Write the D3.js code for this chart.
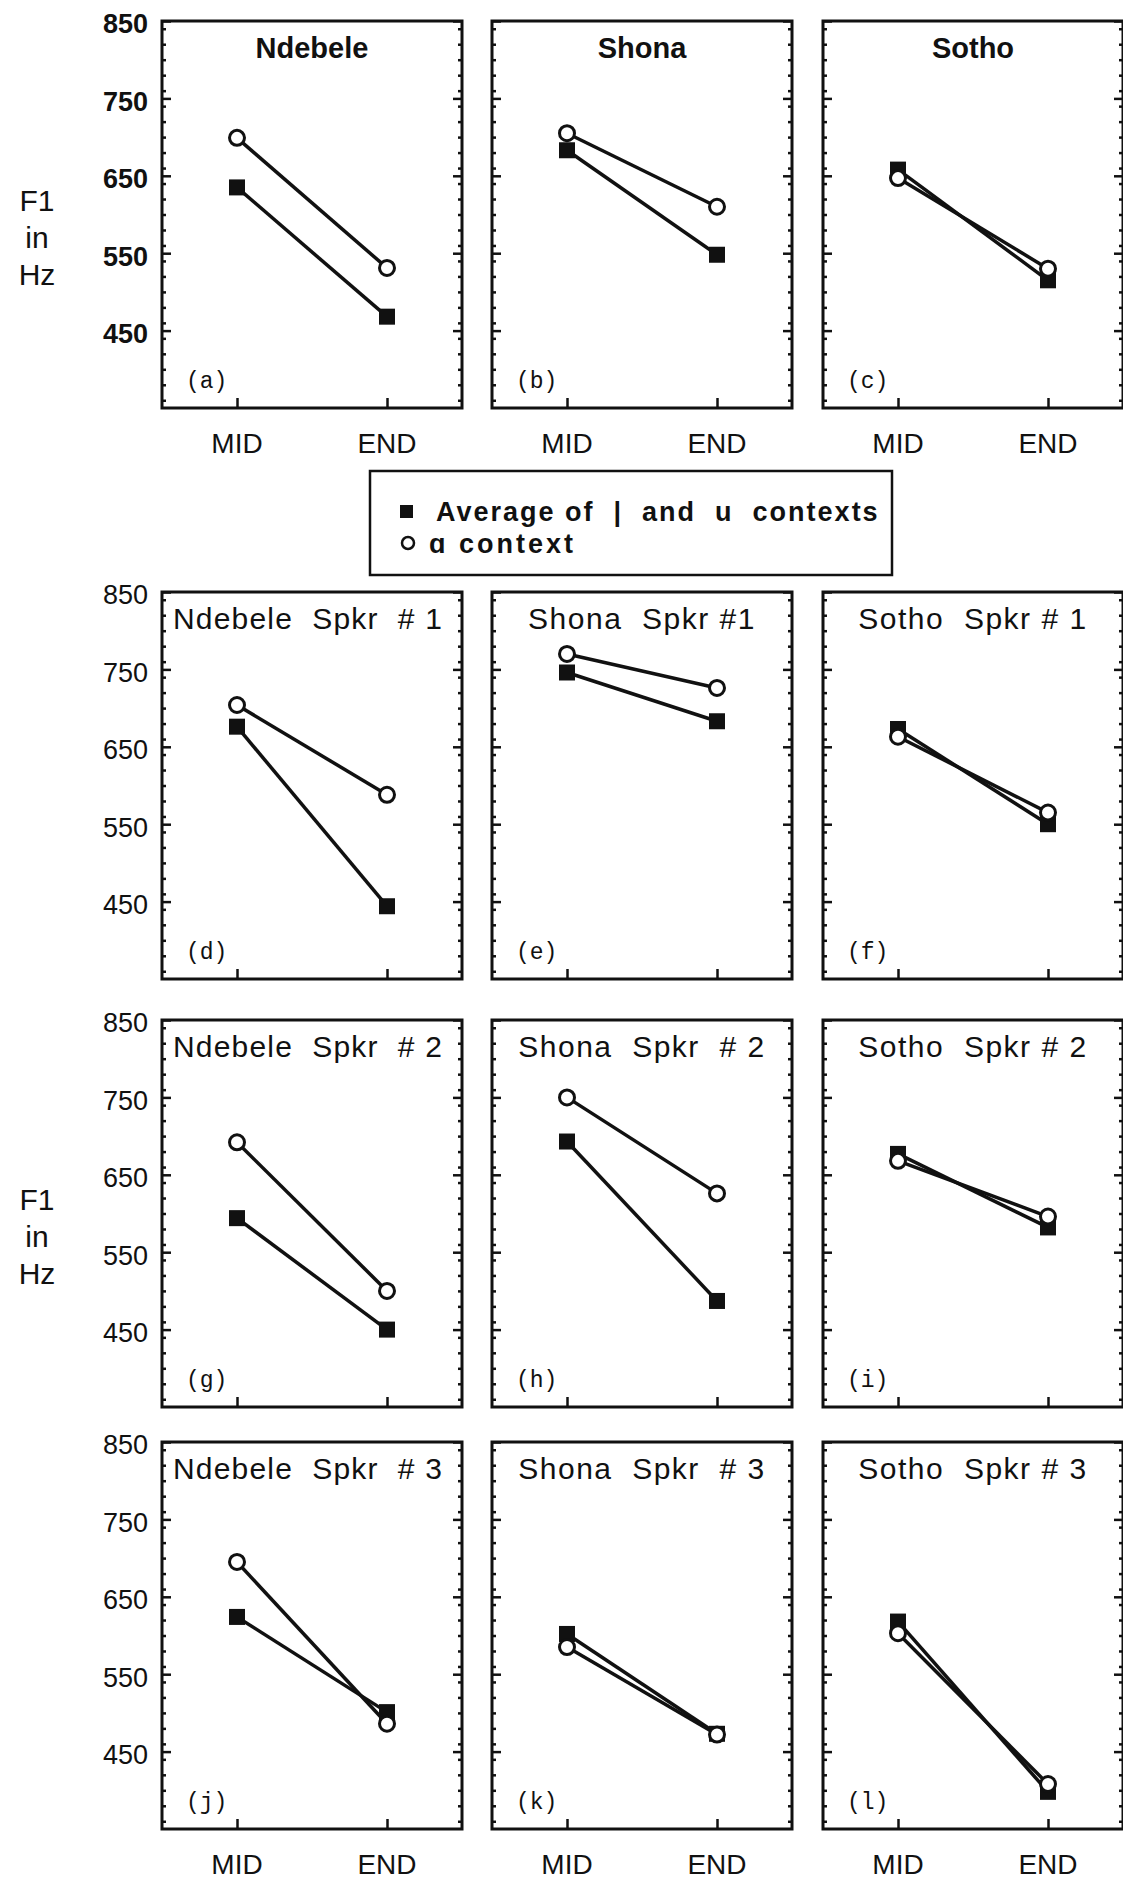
<!DOCTYPE html>
<html>
<head>
<meta charset="utf-8">
<script src="https://cdnjs.cloudflare.com/ajax/libs/d3/7.8.5/d3.min.js"></script>
<style>
  html, body { margin: 0; padding: 0; background: #fff; }
  svg text { font-family: "Liberation Sans", Arial, sans-serif; fill: #111; white-space: pre; }
</style>
</head>
<body>
<div id="f1-chart"></div>
<script>
'use strict';

// x categories and y ticks
var categories = ['MID', 'END'];
var yTicks = [450, 550, 650, 750, 850];

// one entry per panel, left to right, top to bottom
var panelTitles = [
    'Ndebele', 'Shona', 'Sotho',
    'Ndebele  Spkr  # 1', 'Shona  Spkr #1', 'Sotho  Spkr # 1',
    'Ndebele  Spkr  # 2', 'Shona  Spkr  # 2', 'Sotho  Spkr # 2',
    'Ndebele  Spkr  # 3', 'Shona  Spkr  # 3', 'Sotho  Spkr # 3'
];
var panelLetters = ['a', 'b', 'c', 'd', 'e', 'f', 'g', 'h', 'i', 'j', 'k', 'l'];

// F1 (Hz) at MID / END
var avgIU = [
    [635, 468], [683, 548], [658, 515],
    [676, 444], [746, 683], [673, 550],
    [594, 450], [693, 487], [677, 582],
    [624, 501], [602, 473], [618, 398]
];
var aContext = [
    [699, 531], [705, 610], [647, 530],
    [704, 588], [770, 726], [663, 565],
    [692, 500], [750, 626], [668, 596],
    [695, 486], [585, 472], [603, 408]
];

var legendLabels = ['Average of  |  and  u  contexts', 'ɑ context'];

var moduleF1Chart = (function() {

    var width = 1123,
        height = 1884;

    var colLeft = [162, 492, 823],
        rowTop = [21, 592, 1020, 1442];

    var panelW = 300,
        panelH = 387;

    var svg = d3.select('#f1-chart').append('svg')
        .attr('width', width)
        .attr('height', height);

    var x = d3.scalePoint().domain(categories).range([0, panelW]).padding(0.5);
    var y = d3.scaleLinear().domain([350, 850]).range([panelH, 0]);

    var minorTicks = d3.range(360, 850, 20).filter(function(v) { return v % 100 !== 50; });

    var init = function() {

        panelTitles.forEach(function(title, i) {
            var row = Math.floor(i / 3),
                col = i % 3;

            var g = svg.append('g')
                .attr('transform', 'translate(' + colLeft[col] + ',' + rowTop[row] + ')');

            // ticks pointing in, left + right
            g.append('g')
                .call(d3.axisLeft(y).tickValues(yTicks).tickSize(-9).tickFormat(''))
                .call(function(a) { a.select('.domain').remove(); });
            g.append('g')
                .call(d3.axisLeft(y).tickValues(minorTicks).tickSize(-4).tickFormat(''))
                .call(function(a) { a.select('.domain').remove(); });
            g.append('g')
                .attr('transform', 'translate(' + panelW + ',0)')
                .call(d3.axisRight(y).tickValues(yTicks).tickSize(-9).tickFormat(''))
                .call(function(a) { a.select('.domain').remove(); });
            g.append('g')
                .attr('transform', 'translate(' + panelW + ',0)')
                .call(d3.axisRight(y).tickValues(minorTicks).tickSize(-4).tickFormat(''))
                .call(function(a) { a.select('.domain').remove(); });
            g.append('g')
                .attr('transform', 'translate(0,' + panelH + ')')
                .call(d3.axisBottom(x).tickSize(-10).tickFormat(''))
                .call(function(a) { a.select('.domain').remove(); });
            g.selectAll('.tick line').attr('stroke', '#111').attr('stroke-width', 2.5);

            g.append('rect')
                .attr('width', panelW)
                .attr('height', panelH)
                .attr('fill', 'none')
                .attr('stroke', '#111')
                .attr('stroke-width', 3);

            // y tick labels on first column
            if (col === 0) {
                g.selectAll('.ylab')
                    .data(yTicks)
                    .enter()
                    .append('text')
                    .attr('x', -14)
                    .attr('y', function(d) { return y(d) + 3; })
                    .attr('dy', '0.35em')
                    .attr('text-anchor', 'end')
                    .style('font-size', '27px')
                    .style('font-weight', row === 0 ? 'bold' : 'normal')
                    .text(function(d) { return d; });
            }

            // x labels on first and last row
            if (row === 0 || row === 3) {
                g.selectAll('.xlab')
                    .data(categories)
                    .enter()
                    .append('text')
                    .attr('x', function(d) { return x(d); })
                    .attr('y', panelH + 45)
                    .attr('text-anchor', 'middle')
                    .style('font-size', '28px')
                    .text(function(d) { return d; });
            }

            g.append('text')
                .attr('x', panelW / 2 - (col === 0 && row > 0 ? 4 : 0))
                .attr('y', 37)
                .attr('text-anchor', 'middle')
                .style('font-size', row === 0 ? '29px' : '30px')
                .style('font-weight', row === 0 ? 'bold' : 'normal')
                .style('letter-spacing', row === 0 ? '0px' : (col === 0 ? '1.2px' : '1.5px'))
                .text(title);

            g.append('text')
                .attr('x', 24)
                .attr('y', panelH - 20)
                .style('font-family', '"Liberation Mono", "DejaVu Sans Mono", monospace')
                .style('font-size', '23px')
                .text('(' + panelLetters[i] + ')');

            var line = d3.line()
                .x(function(d, k) { return x(categories[k]); })
                .y(function(d) { return y(d); });

            [avgIU[i], aContext[i]].forEach(function(vals) {
                g.append('path')
                    .datum(vals)
                    .attr('d', line)
                    .attr('fill', 'none')
                    .attr('stroke', '#111')
                    .attr('stroke-width', 3.5);
            });

            g.selectAll('.sq')
                .data(avgIU[i])
                .enter()
                .append('rect')
                .attr('x', function(d, k) { return x(categories[k]) - 8; })
                .attr('y', function(d) { return y(d) - 8; })
                .attr('width', 16)
                .attr('height', 16)
                .attr('fill', '#111');

            g.selectAll('.ci')
                .data(aContext[i])
                .enter()
                .append('circle')
                .attr('cx', function(d, k) { return x(categories[k]); })
                .attr('cy', function(d) { return y(d); })
                .attr('r', 7.5)
                .attr('fill', '#fff')
                .attr('stroke', '#111')
                .attr('stroke-width', 3);
        });

        // "F1 in Hz" on rows 1 and 3
        [0, 2].forEach(function(row) {
            var t = svg.append('text')
                .attr('text-anchor', 'middle')
                .style('font-size', '30px');
            ['F1', 'in', 'Hz'].forEach(function(s, k) {
                t.append('tspan')
                    .attr('x', 37)
                    .attr('y', rowTop[row] + 190 + k * 37)
                    .text(s);
            });
        });

        // legend
        var lg = svg.append('g').attr('transform', 'translate(370,471)');
        lg.append('rect')
            .attr('width', 522)
            .attr('height', 104)
            .attr('fill', 'none')
            .attr('stroke', '#111')
            .attr('stroke-width', 2.5);
        lg.append('rect')
            .attr('x', 30).attr('y', 34)
            .attr('width', 13).attr('height', 13)
            .attr('fill', '#111');
        lg.append('circle')
            .attr('cx', 38).attr('cy', 72)
            .attr('r', 6)
            .attr('fill', '#fff')
            .attr('stroke', '#111')
            .attr('stroke-width', 2.5);
        lg.selectAll('.lt')
            .data(legendLabels)
            .enter()
            .append('text')
            .attr('x', function(d, k) { return k === 0 ? 66 : 59; })
            .attr('y', function(d, k) { return 50 + k * 32; })
            .style('font-size', '27px')
            .style('font-weight', 'bold')
            .style('letter-spacing', function(d, k) { return k === 0 ? '2px' : '3px'; })
            .text(function(d) { return d; });
    };

    return {
        init: init
    };
})();

moduleF1Chart.init();
</script>
</body>
</html>
